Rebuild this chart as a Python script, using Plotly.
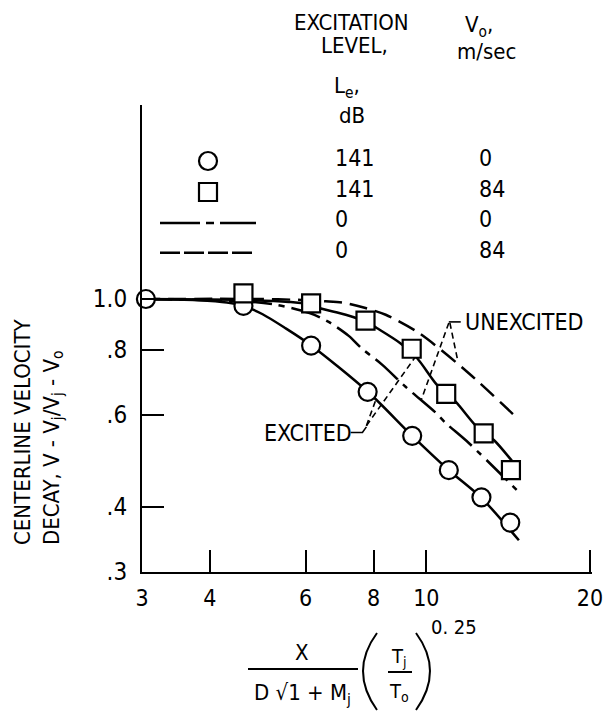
import numpy as np
import plotly.graph_objects as go

# ---------------- data ----------------
# Excited jets, Le = 141 dB
x_exc_v0 = [3.05, 4.61, 6.14, 7.80, 9.42, 11.0, 12.63, 14.27]
y_exc_v0 = [1.0, 0.97, 0.814, 0.664, 0.547, 0.470, 0.417, 0.373]
x_exc_v84 = [4.61, 6.14, 7.73, 9.40, 10.88, 12.75, 14.31]
y_exc_v84 = [1.025, 0.981, 0.909, 0.803, 0.658, 0.553, 0.470]

# Faired curves
fit_exc_v0_x = [3.0, 3.8, 4.3, 4.61, 5.0, 5.5, 6.14, 7.8, 9.4, 11.0, 12.6, 14.8]
fit_exc_v0_y = [1.0, 0.995, 0.985, 0.97, 0.935, 0.88, 0.815, 0.665, 0.548, 0.47, 0.417, 0.345]
fit_exc_v84_x = [3.0, 4.61, 5.59, 6.14, 6.35, 7.11, 7.76, 8.12, 8.97, 9.62, 10.47, 11.32, 12.39, 13.31, 14.55]
fit_exc_v84_y = [1.0, 0.996, 0.987, 0.976, 0.961, 0.933, 0.904, 0.879, 0.822, 0.770, 0.684, 0.636, 0.569, 0.537, 0.482]
# Unexcited jets, Le = 0
fit_unx_v0_x = [3.0, 4.6, 5.3, 6.1, 6.6, 7.2, 7.6, 8.3, 9.16, 10.4, 10.85, 11.97, 14.66]
fit_unx_v0_y = [1.0, 0.99, 0.975, 0.94, 0.905, 0.85, 0.805, 0.748, 0.679, 0.606, 0.579, 0.53, 0.431]
fit_unx_v84_x = [3.0, 5.0, 6.0, 6.53, 7.11, 7.73, 8.42, 9.69, 11.97, 14.63]
fit_unx_v84_y = [1.0, 1.0, 0.995, 0.99, 0.982, 0.961, 0.933, 0.861, 0.721, 0.594]

# Leader lines of the curve labels
exc_hook_x = [7.26, 7.63, 7.76]
exc_hook_y = [0.555, 0.555, 0.569]
exc_branch1_x = [7.76, 8.08]
exc_branch1_y = [0.572, 0.642]
exc_branch2_x = [7.76, 9.55]
exc_branch2_y = [0.572, 0.775]
unx_hook_x = [11.57, 11.0]
unx_hook_y = [0.904, 0.904]
unx_branch1_x = [11.0, 9.8]
unx_branch1_y = [0.90, 0.643]
unx_branch2_x = [11.05, 11.4]
unx_branch2_y = [0.90, 0.77]

# Axis ticks
X_TICKS = [3, 4, 6, 8, 10, 20]
X_TICK_TEXT = ["3", "4", "6", "8", "10", "20"]
X_MINOR = [5, 7, 9]
X_LONG = [10]
Y_TICKS = [0.3, 0.4, 0.6, 0.8, 1.0]
Y_TICK_TEXT = [".3", ".4", ".6", ".8", "1.0"]
Y_MINOR = [0.5, 0.7, 0.9]

# Legend table
LEGEND_LE = ["141", "141", "0", "0"]
LEGEND_V0 = ["0", "84", "0", "84"]

# ---------------- layout helpers ----------------
W, H = 603, 721
L, R, T, B = 142, 11, 105, 149
PW, PH = W - L - R, H - T - B
FONT = "Liberation Sans Narrow, DejaVu Sans Condensed, Arial Narrow, sans-serif"
XR = [np.log10(3), np.log10(20) + 0.0037]
YR = [np.log10(0.3), np.log10(2.353)]


def PX(px):
    return (px - L) / PW


def PY(py):
    return (H - B - py) / PH


DASH = "18px,8px"
DASHDOT = "30px,7px,6px,7px"
LW = 2.5

fig = go.Figure()

# faired curves
fig.add_trace(go.Scatter(x=fit_unx_v0_x, y=fit_unx_v0_y, mode="lines",
                         line=dict(color="black", width=LW, dash=DASHDOT, shape="spline", smoothing=0.8),
                         showlegend=False))
fig.add_trace(go.Scatter(x=fit_unx_v84_x, y=fit_unx_v84_y, mode="lines",
                         line=dict(color="black", width=LW, dash=DASH, shape="spline", smoothing=0.8),
                         showlegend=False))
fig.add_trace(go.Scatter(x=fit_exc_v0_x, y=fit_exc_v0_y, mode="lines",
                         line=dict(color="black", width=LW, shape="spline", smoothing=0.8),
                         showlegend=False))
fig.add_trace(go.Scatter(x=fit_exc_v84_x, y=fit_exc_v84_y, mode="lines",
                         line=dict(color="black", width=LW, shape="spline", smoothing=0.8),
                         showlegend=False))

# leader lines
for xs, ys, d in [(exc_hook_x, exc_hook_y, "solid"), (unx_hook_x, unx_hook_y, "solid"),
                  (exc_branch1_x, exc_branch1_y, "6px,4px"), (exc_branch2_x, exc_branch2_y, "6px,4px"),
                  (unx_branch1_x, unx_branch1_y, "6px,4px"), (unx_branch2_x, unx_branch2_y, "6px,4px")]:
    fig.add_trace(go.Scatter(x=xs, y=ys, mode="lines", line=dict(color="black", width=1.6, dash=d),
                             showlegend=False))

# data symbols
fig.add_trace(go.Scatter(x=x_exc_v0, y=y_exc_v0, mode="markers", cliponaxis=False,
                         marker=dict(symbol="circle", size=18, color="white",
                                     line=dict(color="black", width=2.2)),
                         showlegend=False))
fig.add_trace(go.Scatter(x=x_exc_v84, y=y_exc_v84, mode="markers", cliponaxis=False,
                         marker=dict(symbol="square", size=18, color="white",
                                     line=dict(color="black", width=2.2)),
                         showlegend=False))

# ---- legend glyphs (on a pixel-unit overlay axis) ----
fig.add_trace(go.Scatter(x=[208], y=[161], xaxis="x2", yaxis="y2", mode="markers",
                         marker=dict(symbol="circle", size=18, color="white",
                                     line=dict(color="black", width=2.2)), showlegend=False))
fig.add_trace(go.Scatter(x=[208], y=[192], xaxis="x2", yaxis="y2", mode="markers",
                         marker=dict(symbol="square", size=18, color="white",
                                     line=dict(color="black", width=2.2)), showlegend=False))
fig.add_trace(go.Scatter(x=[160, 256], y=[223, 223], xaxis="x2", yaxis="y2", mode="lines",
                         line=dict(color="black", width=LW, dash="40px,6px,8px,6px"), showlegend=False))
fig.add_trace(go.Scatter(x=[160, 256], y=[252.7, 252.7], xaxis="x2", yaxis="y2", mode="lines",
                         line=dict(color="black", width=LW, dash="20px,4px"), showlegend=False))

annotations = []


def txt(text, px, py, size=23, xanchor="center", yanchor="middle", **kw):
    annotations.append(dict(text=text, x=PX(px), y=PY(py), xref="paper", yref="paper",
                            xanchor=xanchor, yanchor=yanchor, showarrow=False,
                            font=dict(family=FONT, size=size, color="black"), **kw))


# legend headers
txt("EXCITATION", 351, 22.5, 22)
txt("LEVEL,", 354, 46, 22)
txt("L<sub>e</sub>,", 347, 88, 22)
txt("dB", 352, 116, 22)
txt("V<sub>o</sub>,", 479, 26, 22)
txt("m/sec", 486, 51, 22)
rows_y = [158, 189, 219, 250]
for le, v0, ry in zip(LEGEND_LE, LEGEND_V0, rows_y):
    txt(le, 333, ry, 23, xanchor="left")
    txt(v0, 477, ry, 23, xanchor="left")

# curve labels
txt("UNEXCITED", 463, 322, 23, xanchor="left")
txt("EXCITED", 262, 433, 23, xanchor="left")

# y-axis title
txt("CENTERLINE VELOCITY<br>DECAY, V - V<sub>j</sub>/V<sub>j</sub> - V<sub>o</sub>", 38, 432, 22,
    textangle=-90, align="left")

# x-axis title (built fraction)
txt("X", 302, 652, 22)
txt("D \u221a1 + M<sub>j</sub>", 302, 694, 22)
txt("T<sub>j</sub>", 399, 657, 20)
txt("T<sub>o</sub>", 399, 692, 20)
txt("0. 25", 454, 627, 20)

shapes = [
    dict(type="line", xref="paper", yref="paper", x0=PX(248), x1=PX(358), y0=PY(669), y1=PY(669),
         line=dict(color="black", width=2)),
    dict(type="line", xref="paper", yref="paper", x0=PX(388), x1=PX(412), y0=PY(672), y1=PY(672),
         line=dict(color="black", width=2)),
    dict(type="path", xref="paper", yref="paper",
         path=f"M {PX(377)},{PY(633)} Q {PX(349)},{PY(671)} {PX(377)},{PY(710)}",
         line=dict(color="black", width=2)),
    dict(type="path", xref="paper", yref="paper",
         path=f"M {PX(416)},{PY(633)} Q {PX(444)},{PY(671)} {PX(416)},{PY(710)}",
         line=dict(color="black", width=2)),
]
# minor / long ticks positioned on the log axes
for v in X_MINOR:
    shapes.append(dict(type="line", xref="x", yref="paper", x0=np.log10(v), x1=np.log10(v),
                       y0=0, y1=12 / PH, line=dict(color="black", width=2)))
for v in X_LONG:
    shapes.append(dict(type="line", xref="x", yref="paper", x0=np.log10(v), x1=np.log10(v),
                       y0=0, y1=32 / PH, line=dict(color="black", width=2)))
for v in Y_MINOR:
    shapes.append(dict(type="line", xref="paper", yref="y", x0=0, x1=12 / PW,
                       y0=np.log10(v), y1=np.log10(v), line=dict(color="black", width=2)))

tickfont = dict(family=FONT, size=24, color="black")
fig.update_layout(
    width=W, height=H,
    margin=dict(l=L, r=R, t=T, b=B, pad=0, autoexpand=False),
    paper_bgcolor="white", plot_bgcolor="white",
    showlegend=False,
    xaxis=dict(type="log", range=XR, showline=True, linecolor="black",
               linewidth=2, ticks="inside", ticklen=22, tickwidth=2, tickcolor="black",
               tickvals=X_TICKS, ticktext=X_TICK_TEXT, tickfont=dict(family=FONT, size=23, color="black"),
               showgrid=False, automargin=False,
               zeroline=False, ticklabelstandoff=4, ticklabeloverflow="allow"),
    yaxis=dict(type="log", range=YR, showline=True, linecolor="black",
               linewidth=2, ticks="inside", ticklen=22, tickwidth=2, tickcolor="black",
               tickvals=Y_TICKS, ticktext=Y_TICK_TEXT, tickfont=tickfont, showgrid=False,
               automargin=False,
               zeroline=False, ticklabelstandoff=8, ticklabeloverflow="allow"),
    xaxis2=dict(range=[L, W - R], overlaying="x", anchor="y2", visible=False),
    yaxis2=dict(range=[H - B, T], overlaying="y", anchor="x2", visible=False),
    annotations=annotations,
    shapes=shapes,
)

fig.write_html("out.html")
